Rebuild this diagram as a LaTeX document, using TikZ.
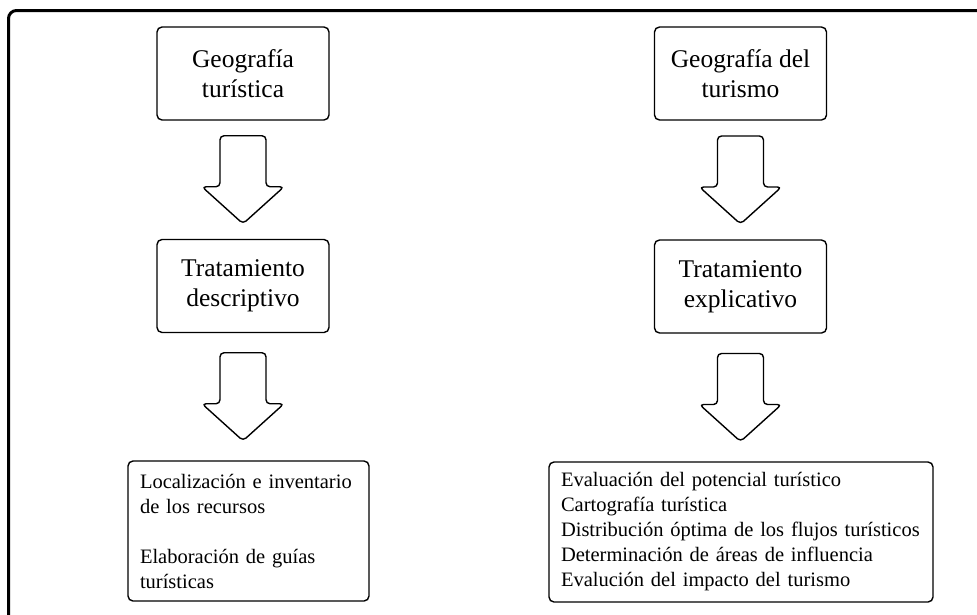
\documentclass[tikz,border=0pt]{standalone}
\usepackage{fontspec}
\setmainfont{Liberation Serif}
\usetikzlibrary{calc}
\tikzset{
  titlebox/.style={draw, line width=1.4pt, rounded corners=5pt, minimum width=172pt, minimum height=93pt,
    align=center, inner sep=0pt, font=\fontsize{25.5}{30}\selectfont},
  listbox/.style={draw, line width=1.4pt, rounded corners=5pt, minimum height=140pt,
    align=left, inner xsep=12pt, inner ysep=0pt, font=\fontsize{20.5}{25}\selectfont},
  fatarrow/.style={draw, line width=1.4pt, rounded corners=4pt, line join=round},
  pics/downarrow/.style={code={
    \draw[fatarrow] (-23,-44) -- (23,-44) -- (23,7) -- (41,7) -- (0,44) -- (-41,7) -- (-23,7) -- cycle;
  }}
}
\begin{document}
\begin{tikzpicture}[x=1pt,y=-1pt]
\useasboundingbox (0,0) rectangle (977,614);
\clip (0,0) rectangle (977,614);
\fill[white] (0,0) rectangle (977,614);
\draw[line width=3pt, rounded corners=8pt] (8.5,700) -- (8.5,10.5) -- (1100,10.5);

\node[titlebox] (t1) at (243,73.5) {Geografía\\turística};
\node[titlebox] (d1) at (243,286) {Tratamiento\\descriptivo};
\node[listbox, text width=217pt] (b1) at (248.5,531) {Localización e inventario\\de los recursos\\[25pt]Elaboración de guías\\turísticas};

\node[titlebox] (t2) at (740.5,73.5) {Geografía del\\turismo};
\node[titlebox] (d2) at (740.5,286.5) {Tratamiento\\explicativo};
\node[listbox, text width=360pt] (b2) at (741,532) {Evaluación del potencial turístico\\Cartografía turística\\Distribución óptima de los flujos turísticos\\Determinación de áreas de influencia\\Evalución del impacto del turismo};

\pic at ($(t1.south)!0.5!(d1.north)$) {downarrow};
\pic at ($(d1.south)!0.5!(b1.north -| d1.south)$) {downarrow};
\pic at ($(t2.south)!0.5!(d2.north)$) {downarrow};
\pic at ($(d2.south)!0.5!(b2.north -| d2.south)$) {downarrow};
\end{tikzpicture}
\end{document}
